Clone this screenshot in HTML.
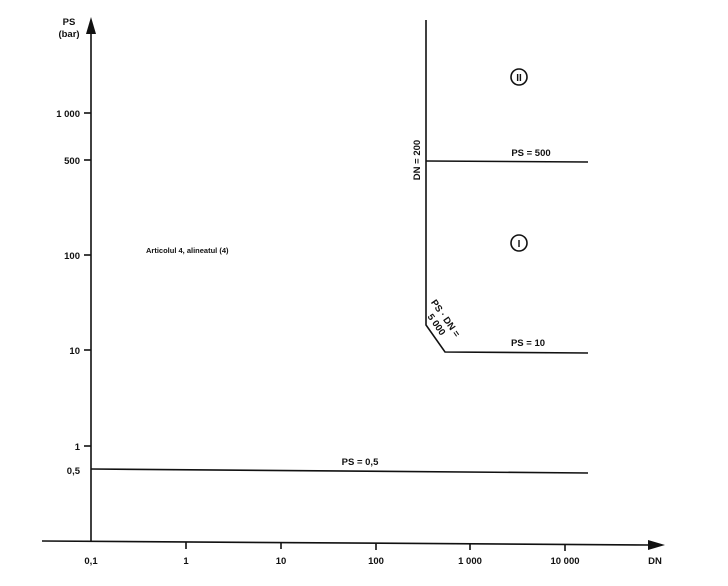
<!DOCTYPE html>
<html><head><meta charset="utf-8"><style>
html,body{margin:0;padding:0;background:#fff;}
svg{display:block;}
text{font-family:"Liberation Sans",sans-serif;font-weight:bold;fill:#111;}
</style></head><body>
<svg width="728" height="586" viewBox="0 0 728 586" xmlns="http://www.w3.org/2000/svg">
<g stroke="#111" fill="none" stroke-width="1.6">
<line x1="91" y1="30" x2="91" y2="542"/>
<line x1="42" y1="541" x2="650" y2="545"/>
<line x1="84" y1="113" x2="91" y2="113"/>
<line x1="84" y1="160" x2="91" y2="160"/>
<line x1="84" y1="255" x2="91" y2="255"/>
<line x1="84" y1="350" x2="91" y2="350"/>
<line x1="84" y1="446" x2="91" y2="446"/>
<line x1="186" y1="542" x2="186" y2="549"/>
<line x1="281" y1="542" x2="281" y2="549"/>
<line x1="376" y1="543" x2="376" y2="550"/>
<line x1="470" y1="543" x2="470" y2="550"/>
<line x1="565" y1="544" x2="565" y2="551"/>
<polyline points="426,20 426,325 445,352 588,353"/>
<line x1="426" y1="161" x2="588" y2="162"/>
<line x1="91" y1="469" x2="588" y2="473"/>
<circle cx="519" cy="77" r="8"/>
<circle cx="519" cy="243" r="8"/>
</g>
<polygon points="91,17 86,34 96,34" fill="#111"/>
<polygon points="665,545 648,540 648,550" fill="#111"/>
<text x="519" y="81" font-size="10" text-anchor="middle">II</text>
<text x="519" y="247" font-size="10" text-anchor="middle">I</text>
<g font-size="9.5" text-anchor="end">
<text x="80" y="117">1 000</text>
<text x="80" y="164">500</text>
<text x="80" y="259">100</text>
<text x="80" y="354">10</text>
<text x="80" y="450">1</text>
<text x="80" y="474">0,5</text>
</g>
<g font-size="9.5" text-anchor="middle">
<text x="91" y="564">0,1</text>
<text x="186" y="564">1</text>
<text x="281" y="564">10</text>
<text x="376" y="564">100</text>
<text x="470" y="564">1 000</text>
<text x="565" y="564">10 000</text>
<text x="655" y="564">DN</text>
<text x="69" y="25">PS</text>
<text x="69" y="37">(bar)</text>
<text x="531" y="156">PS = 500</text>
<text x="528" y="346">PS = 10</text>
<text x="360" y="465">PS = 0,5</text>
</g>
<text x="146" y="253" font-size="7.5">Articolul 4, alineatul (4)</text>
<text transform="translate(420,160) rotate(-90)" font-size="9.5" text-anchor="middle">DN = 200</text>
<text transform="translate(443,320) rotate(55)" font-size="9.5" text-anchor="middle"><tspan x="0" y="0">PS · DN =</tspan><tspan x="0" y="11">5 000</tspan></text>
</svg>
</body></html>
